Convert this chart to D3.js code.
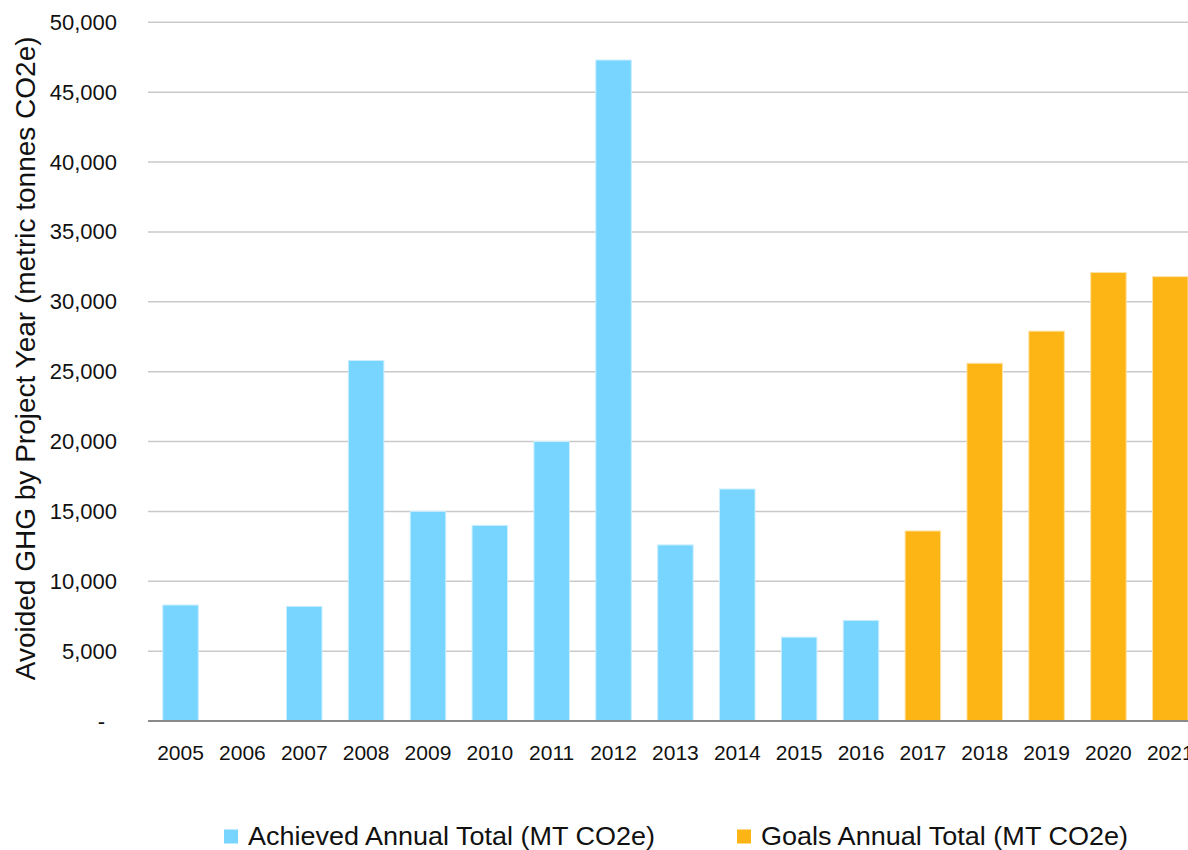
<!DOCTYPE html>
<html>
<head>
<meta charset="utf-8">
<script src="https://cdn.jsdelivr.net/npm/d3@7/dist/d3.min.js"></script>
<style>
  html, body { margin: 0; padding: 0; background: #ffffff; overflow: hidden; }
  svg { display: block; font-family: "Liberation Sans", Arial, sans-serif; }
</style>
</head>
<body>
<svg id="chart" width="1188" height="850"></svg>
<script>
// Project years and avoided GHG totals (metric tonnes CO2e)
const years = ["2005","2006","2007","2008","2009","2010","2011","2012","2013","2014","2015","2016","2017","2018","2019","2020","2021"];
const achieved = [8300, 0, 8200, 25800, 15000, 14000, 20000, 47300, 12600, 16600, 6000, 7200, null, null, null, null, null];
const goals = [null, null, null, null, null, null, null, null, null, null, null, null, 13600, 25600, 27900, 32100, 31800];
const yTicks = [0, 5000, 10000, 15000, 20000, 25000, 30000, 35000, 40000, 45000, 50000];
const seriesNames = ["Achieved Annual Total (MT CO2e)", "Goals Annual Total (MT CO2e)"];
const seriesColors = ["#78D5FF", "#FDB515"];
const seriesStrokes = ["#C9EEFF", "#FEE3A6"];
const yTitle = "Avoided GHG by Project Year (metric tonnes CO2e)";

const svg = d3.select("#chart");

const plotLeft = 149.6, step = 61.86;
const x = d3.scaleBand()
  .domain(years)
  .range([plotLeft, plotLeft + step * years.length])
  .paddingInner(0.426)
  .paddingOuter(0.213);

const y = d3.scaleLinear().domain([0, 50000]).range([721, 22.3]);

// Horizontal gridlines
svg.append("g")
  .selectAll("line")
  .data(yTicks.filter(d => d > 0))
  .join("line")
  .attr("x1", 148).attr("x2", 1188)
  .attr("y1", d => y(d)).attr("y2", d => y(d))
  .attr("stroke", "#c9c9c9")
  .attr("stroke-width", 1.5);

// Y axis labels (accounting style: dash for zero)
const yAxis = d3.axisLeft(y)
  .tickValues(yTicks)
  .tickSize(0)
  .tickPadding(0)
  .tickFormat(d => d === 0 ? "-" : d3.format(",")(d));

const yg = svg.append("g").attr("transform", "translate(117,0)").call(yAxis);
yg.select(".domain").remove();
yg.selectAll("text")
  .attr("font-size", 22)
  .attr("fill", "#111")
  .attr("font-family", "Liberation Sans, Arial, sans-serif")
  .attr("x", d => d === 0 ? -12 : 0);

// Bars
const series = [achieved, goals];
series.forEach((vals, si) => {
  svg.append("g")
    .selectAll("rect")
    .data(years.map((yr, i) => ({ yr, v: vals[i] })).filter(d => d.v !== null && d.v > 0))
    .join("rect")
    .attr("x", d => x(d.yr))
    .attr("width", x.bandwidth())
    .attr("y", d => y(d.v))
    .attr("height", d => y(0) - y(d.v))
    .attr("fill", seriesColors[si])
    .attr("stroke", seriesStrokes[si])
    .attr("stroke-width", 1);
});

// X axis baseline and labels
const xAxis = d3.axisBottom(x).tickSize(0).tickPadding(0);
const xg = svg.append("g").attr("transform", `translate(0,${y(0)})`).call(xAxis);
xg.select(".domain").remove();
xg.selectAll("text")
  .attr("font-size", 21)
  .attr("fill", "#111")
  .attr("font-family", "Liberation Sans, Arial, sans-serif")
  .attr("dy", null)
  .attr("y", 39);

svg.append("line")
  .attr("x1", 148).attr("x2", 1188)
  .attr("y1", y(0)).attr("y2", y(0))
  .attr("stroke", "#8a8a8a")
  .attr("stroke-width", 2);

// Y axis title
svg.append("text")
  .attr("transform", `translate(34.5,${(31.7 + 685) / 2}) rotate(-90)`)
  .attr("text-anchor", "middle")
  .attr("font-size", 28)
  .attr("fill", "#111")
  .text(yTitle);

// Legend
const legendItems = [
  { sx: 224, tx: 248, len: 407 },
  { sx: 737, tx: 761, len: 367 }
];
legendItems.forEach((it, i) => {
  svg.append("rect")
    .attr("x", it.sx).attr("y", 829.5)
    .attr("width", 14).attr("height", 14)
    .attr("fill", seriesColors[i]);
  svg.append("text")
    .attr("x", it.tx).attr("y", 845)
    .attr("font-size", 25)
    .attr("fill", "#111")
    .attr("textLength", it.len)
    .attr("lengthAdjust", "spacingAndGlyphs")
    .text(seriesNames[i]);
});
</script>
</body>
</html>
